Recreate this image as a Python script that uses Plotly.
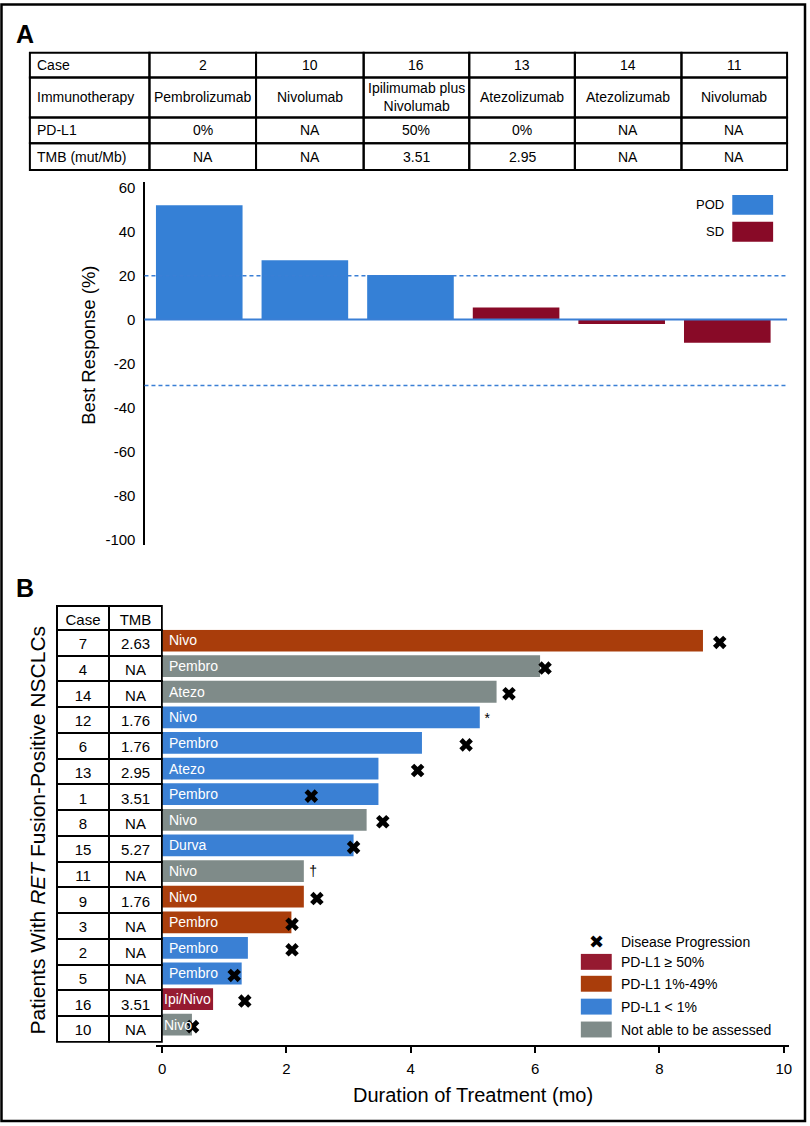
import plotly.graph_objects as go

W, H = 810, 1126
def px(x): return x / W
def py(y): return 1 - y / H

# ---------------- Panel A data ----------------
a_row_labels = ["Case", "Immunotherapy", "PD-L1", "TMB (mut/Mb)"]
a_cases = ["2", "10", "16", "13", "14", "11"]
a_therapy = ["Pembrolizumab", "Nivolumab", "Ipilimumab plus<br>Nivolumab", "Atezolizumab", "Atezolizumab", "Nivolumab"]
a_pdl1 = ["0%", "NA", "50%", "0%", "NA", "NA"]
a_tmb = ["NA", "NA", "3.51", "2.95", "NA", "NA"]
a_best = [52, 27, 20.3, 5.5, -2, -10.5]
a_response = ["POD", "POD", "POD", "SD", "SD", "SD"]
a_thresholds = [20, -30]
a_yticks = [60, 40, 20, 0, -20, -40, -60, -80, -100]

# ---------------- Panel B data ----------------
b_cases = ["7", "4", "14", "12", "6", "13", "1", "8", "15", "11", "9", "3", "2", "5", "16", "10"]
b_tmb = ["2.63", "NA", "NA", "1.76", "1.76", "2.95", "3.51", "NA", "5.27", "NA", "1.76", "NA", "NA", "NA", "3.51", "NA"]
b_drug = ["Nivo", "Pembro", "Atezo", "Nivo", "Pembro", "Atezo", "Pembro", "Nivo", "Durva", "Nivo",
          "Nivo", "Pembro", "Pembro", "Pembro", "Ipi/Nivo", "Nivo"]
b_pdl1 = ["1-49", "NA", "NA", "<1", "<1", "<1", "<1", "NA", "<1", "NA", "1-49", "1-49", "<1", "<1", ">=50", "NA"]
b_duration = [8.70, 6.08, 5.38, 5.11, 4.18, 3.48, 3.48, 3.29, 3.08, 2.28, 2.28, 2.08, 1.38, 1.28, 0.82, 0.48]
b_progression = [8.97, 6.16, 5.58, None, 4.89, 4.11, 2.40, 3.55, 3.08, None, 2.49, 2.09, 2.09, 1.16, 1.33, 0.49]
b_note_cases = ["12", "11"]
b_note_x = [5.23, 2.43]
b_note_text = ["*", "†"]
b_xticks = [0, 2, 4, 6, 8, 10]

pdl1_groups = [">=50", "1-49", "<1", "NA"]
pdl1_labels = ["PD-L1 ≥ 50%", "PD-L1 1%-49%", "PD-L1 < 1%", "Not able to be assessed"]

# ---------------- styles ----------------
FONT = "Liberation Sans, Arial, Helvetica, sans-serif"
resp_colors = {"POD": "#3580D6", "SD": "#880A27"}
pdl1_colors = {">=50": "#951A30", "1-49": "#A93D0B", "<1": "#3A80D4", "NA": "#7F8B89"}
BLUE_LINE = "#3A7FD5"
a_col_w = [120, 107, 108, 106, 106, 107, 106]
a_row_h = [25, 40, 26, 27]

fig = go.Figure()
annotations = []
shapes = []

# ---------- Panel A table (grid on its own axes) ----------
a_grid = [a_row_labels] + [[c, t, p, m] for c, t, p, m in zip(a_cases, a_therapy, a_pdl1, a_tmb)]
x_edges = [0]
for w in a_col_w:
    x_edges.append(x_edges[-1] + w)
y_edges = [0]
for h in a_row_h:
    y_edges.append(y_edges[-1] + h)
for ci, col in enumerate(a_grid):
    for ri, txt in enumerate(col):
        x0, x1 = x_edges[ci], x_edges[ci + 1]
        y0, y1 = y_edges[ri], y_edges[ri + 1]
        shapes.append(dict(type="rect", xref="x3", yref="y3", x0=x0, x1=x1, y0=y0, y1=y1,
                           line=dict(color="black", width=2), fillcolor="rgba(0,0,0,0)"))
        annotations.append(dict(
            x=(x0 + 5) if ci == 0 else (x0 + x1) / 2, y=(y0 + y1) / 2, xref="x3", yref="y3",
            text=txt, showarrow=False, xanchor="left" if ci == 0 else "center", yanchor="middle",
            font=dict(family=FONT, size=14, color="black")))

# ---------- Panel A bars ----------
fig.add_trace(go.Bar(
    x=a_cases, y=a_best, width=0.82,
    marker=dict(color=[resp_colors[r] for r in a_response], line=dict(width=0)),
    xaxis="x", yaxis="y", showlegend=False, hoverinfo="skip",
))

# ---------- Panel B table ----------
fig.add_trace(go.Table(
    domain=dict(x=[px(57), px(163)], y=[py(1046), py(606)]),
    columnwidth=[53, 53],
    header=dict(values=["Case", "TMB"], height=24, align="center",
                fill_color="white", line=dict(color="black", width=2),
                font=dict(family=FONT, size=15, color="black")),
    cells=dict(values=[b_cases, b_tmb], height=25.75, align="center",
               fill_color="white", line=dict(color="black", width=2),
               font=dict(family=FONT, size=15, color="black")),
))

# ---------- Panel B bars ----------
fig.add_trace(go.Bar(
    x=b_duration, y=b_cases, orientation="h", width=0.85, offset=-0.5,
    marker=dict(color=[pdl1_colors[g] for g in b_pdl1], line=dict(width=0)),
    xaxis="x2", yaxis="y2", showlegend=False, hoverinfo="skip",
))
prog_x = [v for v in b_progression if v is not None]
prog_y = [c for c, v in zip(b_cases, b_progression) if v is not None]
fig.add_trace(go.Scatter(
    x=prog_x, y=prog_y, mode="markers",
    marker=dict(symbol="x", size=12, color="black", line=dict(width=0)),
    xaxis="x2", yaxis="y2", showlegend=False, hoverinfo="skip",
))
fig.add_trace(go.Scatter(
    x=b_note_x, y=b_note_cases, mode="text", text=b_note_text,
    textposition="middle center",
    textfont=dict(family=FONT, size=14, color="black"),
    xaxis="x2", yaxis="y2", showlegend=False, hoverinfo="skip",
))

# bar labels (white, inside bars); category axes take the serial index
for i, (d, dur) in enumerate(zip(b_drug, b_duration)):
    est_w = len(d) * 8.2
    fits = dur * 62.4 > est_w + 6
    annotations.append(dict(
        x=0, y=i, xref="x2", yref="y2", text=d, showarrow=False,
        xanchor="left", yanchor="middle", xshift=5 if fits else 0, yshift=2,
        font=dict(family=FONT, size=14, color="white")))

# Panel A reference lines
shapes.append(dict(type="line", xref="paper", yref="y", x0=px(145), x1=px(790), y0=0, y1=0,
                   line=dict(color=BLUE_LINE, width=2)))
for t in a_thresholds:
    shapes.append(dict(type="line", xref="paper", yref="y", x0=px(145), x1=px(790), y0=t, y1=t,
                       line=dict(color=BLUE_LINE, width=1.5, dash="4px,3px")))

# Panel A legend (text left, box right)
for i, r in enumerate(["POD", "SD"]):
    y0, y1 = [(193, 213), (220, 240)][i]
    shapes.append(dict(type="rect", xref="paper", yref="paper",
                       x0=px(735), x1=px(776), y0=py(y1), y1=py(y0),
                       fillcolor=resp_colors[r], line=dict(width=0)))
    annotations.append(dict(x=px(729), y=py((y0 + y1) / 2), xref="paper", yref="paper",
                            text=r, showarrow=False, xanchor="right", yanchor="middle",
                            font=dict(family=FONT, size=13, color="black")))

# Panel B legend
annotations.append(dict(x=px(599), y=py(944), xref="paper", yref="paper", text="✖",
                        showarrow=False, xanchor="center", yanchor="middle",
                        font=dict(family="DejaVu Sans", size=18, color="black")))
annotations.append(dict(x=px(621), y=py(944), xref="paper", yref="paper", text="Disease Progression",
                        showarrow=False, xanchor="left", yanchor="middle",
                        font=dict(family=FONT, size=14, color="black")))
box_y = [(956, 972), (978, 994), (1001, 1017), (1024, 1040)]
for g, lab, (y0, y1) in zip(pdl1_groups, pdl1_labels, box_y):
    shapes.append(dict(type="rect", xref="paper", yref="paper",
                       x0=px(583), x1=px(614), y0=py(y1), y1=py(y0),
                       fillcolor=pdl1_colors[g], line=dict(width=0)))
    annotations.append(dict(x=px(621), y=py((y0 + y1) / 2), xref="paper", yref="paper", text=lab,
                            showarrow=False, xanchor="left", yanchor="middle",
                            font=dict(family=FONT, size=14, color="black")))

# Titles and panel letters
annotations += [
    dict(x=px(25), y=py(31), xref="paper", yref="paper", text="<b>A</b>", showarrow=False,
         xanchor="center", yanchor="middle", font=dict(family=FONT, size=25, color="black")),
    dict(x=px(25), y=py(588), xref="paper", yref="paper", text="<b>B</b>", showarrow=False,
         xanchor="center", yanchor="middle", font=dict(family=FONT, size=25, color="black")),
    dict(x=px(88), y=py(344), xref="paper", yref="paper", text="Best Response (%)", showarrow=False,
         textangle=-90, xanchor="center", yanchor="middle",
         font=dict(family=FONT, size=18.5, color="black")),
    dict(x=px(38), y=py(832), xref="paper", yref="paper",
         text="Patients With <i>RET</i> Fusion-Positive NSCLCs", showarrow=False,
         textangle=-90, xanchor="center", yanchor="middle",
         font=dict(family=FONT, size=21, color="black")),
    dict(x=px(475), y=py(1098), xref="paper", yref="paper", text="Duration of Treatment (mo)",
         showarrow=False, xanchor="center", yanchor="middle",
         font=dict(family=FONT, size=20, color="black")),
]

# outer frame
shapes.append(dict(type="rect", xref="paper", yref="paper", x0=px(1.5), x1=px(808), y0=py(1124), y1=py(1.5),
                   line=dict(color="black", width=2.5), fillcolor="rgba(0,0,0,0)"))

x2_lo = (157 - 162.7) / 62.4
x2_hi = (792 - 162.7) / 62.4

fig.update_layout(
    width=W, height=H, margin=dict(l=0, r=0, t=0, b=0),
    paper_bgcolor="white", plot_bgcolor="rgba(0,0,0,0)",
    font=dict(family=FONT, color="black"),
    xaxis=dict(domain=[px(147), px(783)], range=[-0.5, 5.5], type="category",
               categoryorder="array", categoryarray=a_cases, visible=False, anchor="y"),
    yaxis=dict(domain=[py(545), py(180)], range=[-102.6, 62.6], tickvals=a_yticks,
               ticktext=[str(v) for v in a_yticks],
               anchor="free", position=px(145), showline=True, linecolor="black", linewidth=2,
               showgrid=False, zeroline=False, ticks="", ticklabelstandoff=5,
               tickfont=dict(family=FONT, size=15, color="black")),
    xaxis2=dict(domain=[px(157), px(792)], range=[x2_lo, x2_hi], tickvals=b_xticks,
                anchor="free", position=py(1049), showline=True, linecolor="black", linewidth=2,
                ticks="outside", ticklen=6, tickwidth=1.5, tickcolor="black",
                showgrid=False, zeroline=False, ticklabelstandoff=3,
                tickfont=dict(family=FONT, size=15, color="black")),
    yaxis2=dict(domain=[py(1042), py(630)], type="category", categoryorder="array",
                categoryarray=b_cases, range=[15.5, -0.5], visible=False, anchor="x2"),
    xaxis3=dict(domain=[px(28), px(792)], range=[-2, sum(a_col_w) + 2], visible=False,
                anchor="y3", fixedrange=True),
    yaxis3=dict(domain=[py(170), py(48)], range=[sum(a_row_h) + 2, -2], visible=False,
                anchor="x3", fixedrange=True),
    shapes=shapes, annotations=annotations, showlegend=False,
)

fig.write_html("out.html", config={"displayModeBar": False},
               post_script="document.body.style.margin='0px';")
